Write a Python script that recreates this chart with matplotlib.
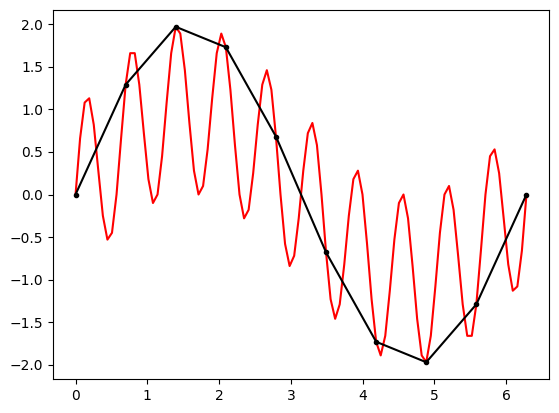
import numpy as np
import matplotlib
matplotlib.use('Agg')
import matplotlib.pyplot as plt

# 빨간 선: 0 ~ 2pi 구간 100개 샘플
x_start, x_end = 0.0, 6.2832
red_y = [0.00, 0.66, 1.08, 1.13, 0.82, 0.28, -0.25, -0.53, -0.45, 0.00,
         0.66, 1.29, 1.66, 1.66, 1.29, 0.72, 0.18, -0.10, 0.00, 0.45,
         1.08, 1.66, 1.97, 1.89, 1.46, 0.84, 0.28, -0.00, 0.10, 0.53,
         1.13, 1.66, 1.89, 1.73, 1.23, 0.58, -0.00, -0.28, -0.18, 0.25,
         0.82, 1.29, 1.46, 1.23, 0.68, -0.00, -0.58, -0.84, -0.72, -0.28,
         0.28, 0.72, 0.84, 0.58, -0.00, -0.68, -1.23, -1.46, -1.29, -0.82,
         -0.25, 0.18, 0.28, 0.00, -0.58, -1.23, -1.73, -1.89, -1.66, -1.13,
         -0.53, -0.10, -0.00, -0.28, -0.84, -1.46, -1.89, -1.97, -1.66, -1.08,
         -0.45, 0.00, 0.10, -0.18, -0.72, -1.29, -1.66, -1.66, -1.29, -0.66,
         0.00, 0.45, 0.53, 0.25, -0.28, -0.82, -1.13, -1.08, -0.66, -0.00]

# 검은 선: 10개 샘플
black_x = [0.0, 0.698, 1.396, 2.094, 2.793, 3.491, 4.189, 4.887, 5.585, 6.283]
black_y = [0.00, 1.29, 1.97, 1.73, 0.68, -0.68, -1.73, -1.97, -1.29, 0.00]

red_x = np.linspace(x_start, x_end, len(red_y))

fig = plt.figure(figsize=(5.59, 4.13), dpi=100)
ax = fig.add_axes([53 / 559, 1 - 379 / 413, 496 / 559, 369 / 413])
ax.plot(red_x, red_y, color='red')
ax.plot(black_x, black_y, color='black', marker='.')

fig.savefig('out.png', dpi=100)
